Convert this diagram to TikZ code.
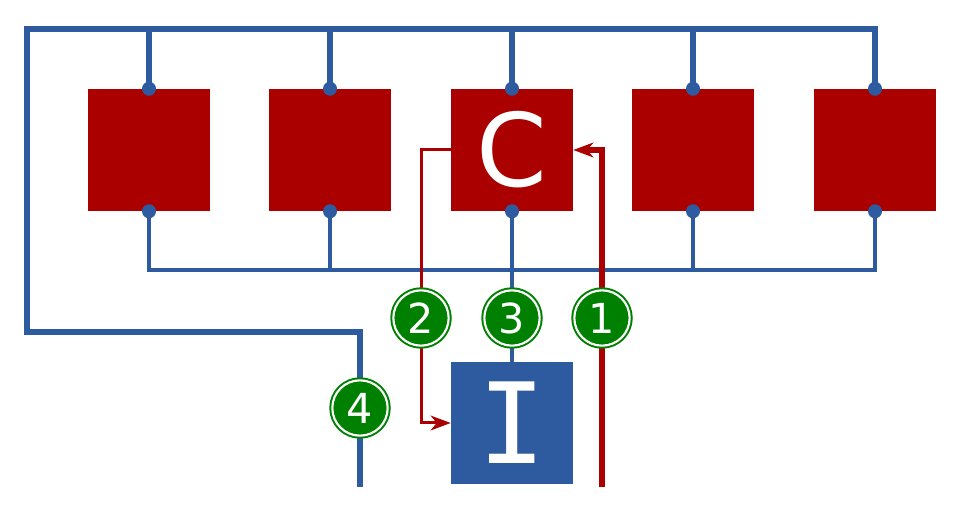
\documentclass[tikz,border=0pt]{standalone}
\usepackage{fontspec}
\setmainfont{DejaVu Sans}
\newfontfamily\monofont{DejaVu Sans Mono}
\usetikzlibrary{arrows.meta}
\definecolor{cred}{RGB}{170,0,0}
\definecolor{cblue}{RGB}{46,91,160}
\definecolor{cgreen}{RGB}{0,128,0}
\tikzset{
  unit/.style={fill=cred, minimum size=91.5pt, inner sep=0pt, text=white},
  ibox/.style={fill=cblue, minimum size=91.5pt, inner sep=0pt, text=white},
  bus/.style={draw=cblue, line width=4.5pt, line join=miter},
  tap/.style={draw=cblue, line width=3pt, line join=miter},
  num/.style={circle, fill=cgreen, draw=cgreen, double=white, double distance=1.6pt,
    line width=1.5pt, minimum size=41.5pt, inner sep=0pt, text=white,
    font=\fontsize{31}{31}\selectfont},
  flow/.style={draw=cred, line width=2.25pt, line join=miter,
    -{Stealth[length=15pt,width=11pt,inset=4.5pt]}},
}
\begin{document}
\begin{tikzpicture}[x=0.75pt,y=0.75pt,yscale=-1,xscale=1]
\useasboundingbox (0,0) rectangle (968,516);

% units
\node[unit] (u1) at (149,150) {};
\node[unit] (u2) at (330,150) {};
\node[unit, font=\fontsize{76}{76}\selectfont] (u3) at (512,150) {C};
\node[unit] (u4) at (693,150) {};
\node[unit] (u5) at (875,150) {};
\node[ibox, font=\monofont\fontsize{84}{84}\selectfont] (io) at (512,423) {I};

% buses
\coordinate (tl) at (27,29);
\coordinate (bl) at (149,270);
\coordinate (lend) at (360,487);
\draw[bus] (u5.north) -- (u5.north |- tl) -- (tl) -- (27,332) -- (360,332) -- (lend);
\draw[tap] (u1.south) -- (bl) -- (u5.south |- bl) -- (u5.south);
\foreach \u in {u1,u2,u3,u4}
  \draw[bus] (\u.north |- tl) -- (\u.north);
\foreach \u in {u2,u3,u4}
  \draw[tap] (\u.south) -- (\u.south |- bl);
\foreach \u in {u1,u2,u3,u4,u5}{
  \fill[cblue] (\u.north) circle (7);
  \fill[cblue] (\u.south) circle (7);
}
\draw[tap] (u3.south |- bl) -- (io.north);

% flows
\coordinate (src) at (602,487);
\draw[flow, line width=4.5pt] (src) -- (602,150) -- (u3.east);
\draw[flow] (u3.west) -- (421,150) -- (421,423) -- (io.west);

% steps
\node[num] (n1) at (602,318) {1};
\node[num] (n2) at (421,318) {2};
\node[num] (n3) at (512,318) {3};
\node[num] (n4) at (360,408) {4};
\end{tikzpicture}
\end{document}
